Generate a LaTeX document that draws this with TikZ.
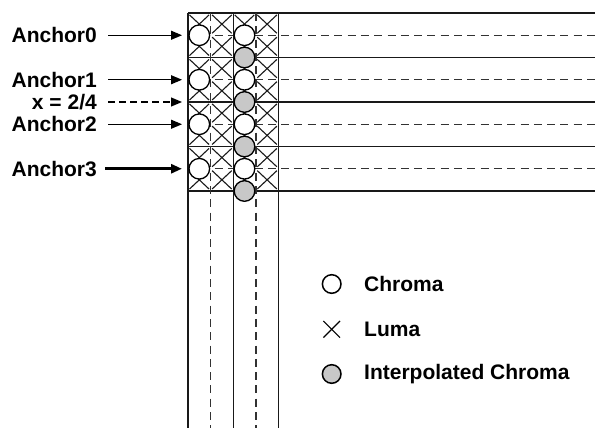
\documentclass[tikz,border=0pt]{standalone}
\usepackage{fontspec}
\setmainfont{Liberation Sans}
\usepackage{tikz}
\usepackage{xcolor}
\usetikzlibrary{arrows.meta,calc,positioning}
\definecolor{gridline}{RGB}{25,25,25}
\definecolor{dashline}{RGB}{50,50,50}
\definecolor{chromagray}{RGB}{200,200,200}

\tikzset{
	lbl/.style={font=\fontsize{21}{25}\selectfont\bfseries,inner sep=0pt},
	lumax/.style={line width=1.1pt,draw=gridline},
	chroma/.style={circle,draw=black,fill=white,line width=1.3pt,minimum size=20.6pt,inner sep=0pt},
	interp/.style={chroma,fill=chromagray},
	anchorarrow/.style={line width=1.2pt,-{Triangle[length=11pt,width=9pt]}},
	gridsolid/.style={line width=1.4pt,draw=gridline},
	griddash/.style={line width=1.4pt,draw=dashline,dash pattern=on 8pt off 5.3pt}
}

\begin{document}
\begin{tikzpicture}[x=1pt,y=-1pt]
		\useasboundingbox (0,0) rectangle (595,428);
		% luma samples
		\foreach \i in {0,...,3}{
			\foreach \j in {0,...,7}{
				\coordinate (L) at ({199.3+22.6*\i},{24.1+22.25*\j});
				\draw[lumax] ($(L)+(-9.8,-9.2)$) -- ($(L)+(9.8,9.2)$);
				\draw[lumax] ($(L)+(-9.8,9.2)$) -- ($(L)+(9.8,-9.2)$);
			}
		}
		% grid lines
		\foreach \y in {13,57.5,102,146.5,191}
			\draw[gridsolid] (188,\y) -- (595,\y);
		\foreach \y in {35.25,79.75,124.25,168.75}
			\draw[griddash] (188,\y) -- (595,\y);
		\foreach \x in {188,233.2,278.4}
			\draw[gridsolid] (\x,13) -- (\x,428);
		\foreach \x in {210.6,255.8}
			\draw[griddash] (\x,13) -- (\x,428);
		% chroma samples
		\foreach \k in {0,...,3}{
			\node[chroma] (ca\k) at (199.3,{35.25+44.5*\k}) {};
			\node[chroma] (cb\k) at (244.5,{35.25+44.5*\k}) {};
			\node[interp] (ci\k) at (244.5,{57.5+44.5*\k}) {};
			\coordinate (t\k) at (182,{35.25+44.5*\k});
		}
		\coordinate (tx) at (182,102);
		% labels on the left
		\node[lbl,anchor=east] (a0) at (97,35.25) {Anchor0};
		\node[lbl,anchor=east] (a1) at (97,79.75) {Anchor1};
		\node[lbl,anchor=east] (xq) at (97,102) {x = 2/4};
		\node[lbl,anchor=east] (a2) at (97,124.25) {Anchor2};
		\node[lbl,anchor=east] (a3) at (97,168.75) {Anchor3};
		\draw[anchorarrow] ([xshift=11pt]a0.east) -- (t0);
		\draw[anchorarrow] ([xshift=11pt]a1.east) -- (t1);
		\draw[anchorarrow,dash pattern=on 7pt off 4pt] ([xshift=11pt]xq.east) -- (tx);
		\draw[anchorarrow] ([xshift=11pt]a2.east) -- (t2);
		\draw[anchorarrow,line width=2.8pt] ([xshift=8pt]a3.east) -- (t3);
		% legend
		\node[chroma,minimum size=18.6pt,line width=1.5pt] (kc) at (331.7,284) {};
		\coordinate (kl) at (331.7,329.3);
		\draw[line width=1.2pt] ($(kl)+(-8.3,-8.3)$) -- ($(kl)+(8.3,8.3)$);
		\draw[line width=1.2pt] ($(kl)+(-8.3,8.3)$) -- ($(kl)+(8.3,-8.3)$);
		\node[interp,minimum size=18.6pt,line width=1.5pt] (ki) at (331.7,374) {};
		\node[lbl,anchor=west] at (364,284) {Chroma};
		\node[lbl,anchor=west] at (364,329.3) {Luma};
		\node[lbl,anchor=west] at (364,374) {Interpolated Chroma};
\end{tikzpicture}
\end{document}
